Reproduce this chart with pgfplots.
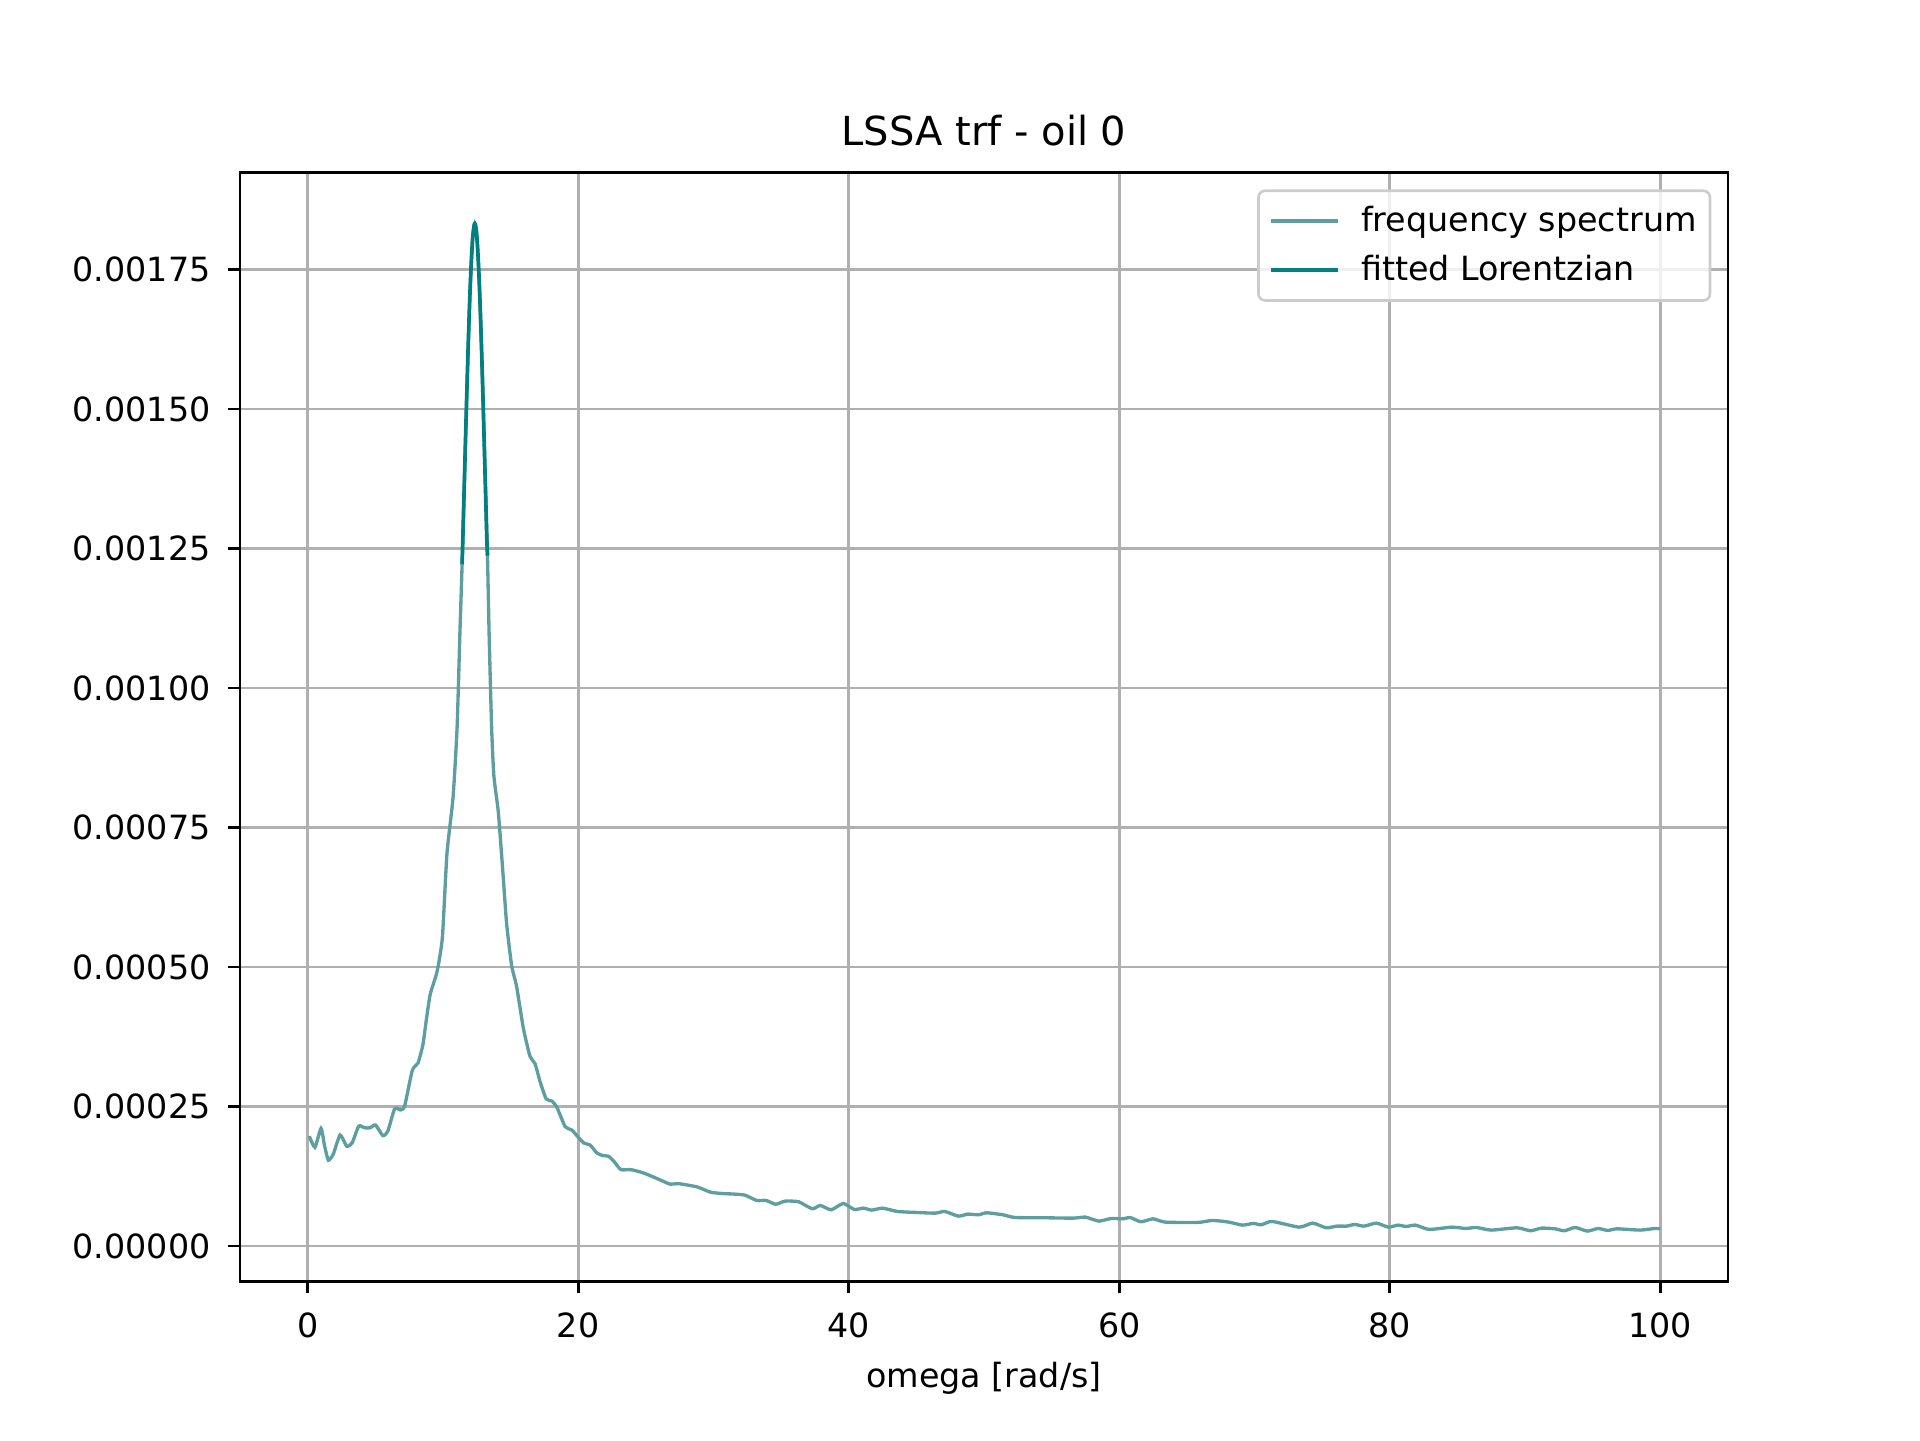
\documentclass[border=0pt]{standalone}
\usepackage{pgfplots}
\pgfplotsset{compat=1.18}
\usepackage{fontspec}
\setmainfont{DejaVu Sans}
\definecolor{cadet}{RGB}{95,158,160}
\definecolor{tealc}{RGB}{0,128,128}
\definecolor{gridc}{RGB}{176,176,176}
\begin{document}
\begin{tikzpicture}
\begin{axis}[
  name=ax,
  scale only axis,
  width=446.4pt, height=332.64pt,
  xmin=-5, xmax=105,
  ymin=-0.0000636, ymax=0.001923,
  xtick={0,20,40,60,80,100},
  ytick={0,0.00025,0.0005,0.00075,0.001,0.00125,0.0015,0.00175},
  scaled y ticks=false,
  yticklabel style={xshift=-1.8pt, /pgf/number format/.cd, fixed, fixed zerofill, precision=5},
  /pgf/number format/assume math mode=true,
  ticklabel style={font=\fontsize{10}{12}\selectfont},
  xticklabel style={yshift=-2.2pt},
  tick align=outside,
  xtick pos=bottom, ytick pos=left,
  major tick length=3.5pt,
  every tick/.style={black, line width=0.8pt},
  axis line style={line width=0.8pt},
  grid=major,
  major grid style={gridc, line width=0.8pt},
  xlabel={omega [rad/s]},
  xlabel style={font=\fontsize{10}{12}\selectfont, yshift=-0.5pt},
  title={LSSA trf - oil 0},
  title style={font=\fontsize{12}{14}\selectfont, yshift=-1.5pt},
  legend cell align=left,
  legend style={at={(rel axis cs:1,1)}, anchor=north east, xshift=-5pt, yshift=-5pt,
    draw=black!20, line width=0.8pt, rounded corners=2pt, fill=white, fill opacity=0.8, text opacity=1,
    font=\fontsize{10}{12}\selectfont, inner xsep=2pt, inner ysep=2.5pt, row sep=1.7pt},
  legend image code/.code={\draw[#1] (0pt,0pt) -- (20pt,0pt); \path (-1.3pt,0pt) (24.4pt,0pt);},
]
\addplot[cadet, line width=1pt, smooth, tension=0.35] coordinates {
(0.12,0.000197) (0.54,0.000177) (0.99,0.000211) (1.25,0.00018) (1.53,0.000154)
(1.9,0.000165) (2.4,0.000199) (2.89,0.000179) (3.29,0.000185) (3.78,0.000215)
(4.2,0.000212) (4.62,0.000212) (5.02,0.000217) (5.56,0.000198) (5.93,0.000206)
(6.43,0.000246) (6.87,0.000244) (7.17,0.000251) (7.74,0.000315) (8.16,0.000328)
(8.53,0.000362) (8.8,0.000410) (9.07,0.000452) (9.57,0.000492) (9.96,0.000553)
(10.3,0.000703) (10.75,0.000804) (11.05,0.00093) (11.25,0.001093) (11.42,0.001222)
(11.6,0.001381) (11.8,0.001556) (12.0,0.001707) (12.2,0.001806) (12.36,0.001832)
(12.5,0.001812) (12.7,0.001720) (12.9,0.001573) (13.1,0.001399) (13.30,0.001230)
(13.42,0.001093) (13.6,0.00093) (13.77,0.000842) (14.09,0.000779) (14.41,0.000678)
(14.71,0.000578) (15.08,0.000503) (15.45,0.000465) (15.95,0.00039) (16.44,0.000340)
(16.81,0.000327) (17.18,0.000295) (17.63,0.000264) (18.05,0.000260) (18.42,0.000249)
(19.04,0.000214) (19.53,0.000208) (19.9,0.000198) (20.4,0.000185) (20.89,0.000181)
(21.38,0.000167) (21.85,0.000162) (22.25,0.000161) (22.67,0.000151) (23.16,0.000137)
(23.9,0.000137) (24.84,0.000131) (25.83,0.000121) (26.8,0.000111) (27.4,0.000112)
(28.8,0.000106) (29.8,0.0000965) (30.8,0.000094) (31.3,0.0000935) (32.3,0.0000915)
(33.2,0.0000818) (33.9,0.0000818) (34.6,0.0000750) (35.3,0.0000806) (36.3,0.0000794)
(37.3,0.0000669) (37.9,0.0000728) (38.7,0.0000651) (39.6,0.0000764) (40.4,0.0000657)
(41.1,0.000068) (41.7,0.0000645) (42.5,0.000068) (43.6,0.0000621) (45.0,0.0000603)
(46.4,0.0000591) (47.1,0.0000621) (48.1,0.0000537) (48.8,0.0000573) (49.6,0.0000561)
(50.2,0.0000597) (51.4,0.0000561) (52.3,0.0000513) (54.7,0.0000507) (56.6,0.0000501)
(57.5,0.0000519) (58.5,0.0000448) (59.4,0.0000495) (60.3,0.0000489) (60.8,0.0000513)
(61.6,0.0000436) (62.5,0.0000489) (63.4,0.000043) (65.8,0.0000424) (66.9,0.000046)
(68.1,0.000043) (69.1,0.0000376) (69.9,0.0000406) (70.5,0.0000382) (71.3,0.0000442)
(73.3,0.000034) (74.3,0.0000412) (75.3,0.0000328) (76.1,0.0000358) (76.8,0.0000358)
(77.4,0.0000388) (78.1,0.0000358) (79.0,0.0000412) (79.9,0.000034) (80.6,0.0000376)
(81.2,0.0000352) (81.9,0.0000376) (82.9,0.0000299) (84.6,0.000034) (85.6,0.0000316)
(86.4,0.0000334) (87.5,0.0000287) (89.4,0.0000328) (90.4,0.0000275) (91.2,0.0000322)
(92.2,0.000031) (92.9,0.0000275) (93.7,0.0000334) (94.6,0.0000269) (95.4,0.0000316)
(96.1,0.0000281) (96.8,0.000031) (98.5,0.0000287) (99.6,0.0000316) (100.0,0.000031)
};
\addlegendentry{frequency spectrum}
\addplot[tealc, line width=1.1pt, smooth] coordinates {
(11.42,0.001222) (11.5,0.001292) (11.6,0.001381) (11.7,0.001470) (11.8,0.001556)
(11.9,0.001636) (12.0,0.001707) (12.1,0.001765) (12.2,0.001806) (12.3,0.001828)
(12.36,0.001832) (12.45,0.001824) (12.55,0.001795) (12.65,0.001749) (12.75,0.001687)
(12.85,0.001613) (12.95,0.001531) (13.05,0.001443) (13.15,0.001354) (13.25,0.001265)
(13.30,0.001237)
};
\addlegendentry{fitted Lorentzian}
\coordinate (sw) at (rel axis cs:0,0);
\coordinate (ne) at (rel axis cs:1,1);
\end{axis}
\path ([shift={(-72pt,-47.52pt)}]sw) rectangle ([shift={(57.6pt,51.84pt)}]ne);
\end{tikzpicture}
\end{document}
